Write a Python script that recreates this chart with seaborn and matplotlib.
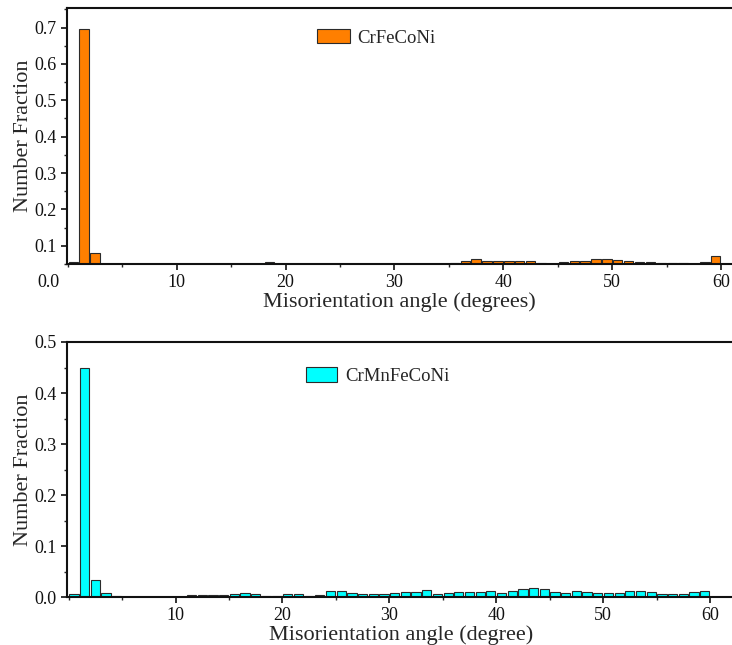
import numpy as np
import pandas as pd
import matplotlib
matplotlib.use("Agg")
import matplotlib.pyplot as plt
from matplotlib.patches import Patch
from matplotlib.ticker import MultipleLocator
import seaborn as sns

# 1-degree misorientation bins from 0 to 60 degrees
bin_centers = np.arange(60) + 0.5

crfeconi = [
    0.056, 0.695, 0.080, 0.051,
    0.045, 0.045, 0.045, 0.045, 0.045, 0.045, 0.045,
    0.045, 0.045, 0.045, 0.045, 0.045, 0.045, 0.045,
    0.055, 0.045, 0.045, 0.051, 0.051, 0.046, 0.046,
    0.051, 0.051, 0.051, 0.051, 0.051, 0.051, 0.051, 0.051, 0.051,
    0.050, 0.053,
    0.059, 0.064, 0.059, 0.059, 0.059, 0.059, 0.057, 0.053, 0.050,
    0.056, 0.059, 0.059, 0.063, 0.063, 0.060, 0.057, 0.055, 0.055,
    0.054, 0.053, 0.053, 0.046, 0.056, 0.073,
]

crmnfeconi = [
    0.0065, 0.450, 0.034, 0.008, 0.002,
    0.0, 0.0, 0.0, 0.0, 0.0, 0.0,
    0.004, 0.005, 0.005, 0.005, 0.0065, 0.009, 0.006, 0.002, 0.002,
    0.006, 0.006, 0.0025, 0.0045, 0.0125, 0.0125, 0.0085, 0.0065, 0.0065,
    0.006, 0.0085, 0.011, 0.011, 0.0145, 0.0065, 0.0085, 0.011, 0.011,
    0.011, 0.0125, 0.0085, 0.0125, 0.016, 0.019, 0.016, 0.011, 0.0085,
    0.013, 0.010, 0.0085, 0.008, 0.0085, 0.012, 0.013, 0.011, 0.007,
    0.007, 0.006, 0.010, 0.0125,
]

alloys = ["CrFeCoNi", "CrMnFeCoNi"]
xlabels = ["Misorientation angle (degrees)", "Misorientation angle (degree)"]
ylabel = "Number Fraction"

orange = "#FF7F00"
cyan = "#00FFFF"
edge = "#2b2b2b"

sns.set_theme(style="ticks")
plt.rcParams["font.family"] = ["Liberation Serif", "DejaVu Serif"]
plt.rcParams["axes.linewidth"] = 1.5

W, H = 732, 645
fig = plt.figure(figsize=(W / 100, H / 100), dpi=100)

def px_axes(left, top, right, bottom):
    return fig.add_axes([left / W, 1 - bottom / H, (right - left) / W, (bottom - top) / H])

ax1 = px_axes(66.7, 7.5, 732.1, 264.0)
ax2 = px_axes(66.7, 342.0, 734.6, 597.3)

df1 = pd.DataFrame({"angle": bin_centers, "fraction": crfeconi})
df2 = pd.DataFrame({"angle": bin_centers, "fraction": crmnfeconi})

sns.barplot(data=df1, x="angle", y="fraction", native_scale=True, width=0.86,
            color=orange, saturation=1, edgecolor=edge, linewidth=0.8,
            errorbar=None, ax=ax1)
sns.barplot(data=df2, x="angle", y="fraction", native_scale=True, width=0.86,
            color=cyan, saturation=1, edgecolor=edge, linewidth=0.8,
            errorbar=None, ax=ax2)

ax1.set_xlim(-0.1, 61.0)
ax1.set_ylim(0.05, 0.755)
ax2.set_xlim(-0.18, 62.3)
ax2.set_ylim(0.0, 0.5)

TICK_FS = 13
LABEL_FS = 16

for ax, xl in zip((ax1, ax2), xlabels):
    ax.xaxis.set_major_locator(MultipleLocator(10))
    ax.xaxis.set_minor_locator(MultipleLocator(5))
    ax.yaxis.set_major_locator(MultipleLocator(0.1))
    ax.yaxis.set_minor_locator(MultipleLocator(0.05))
    ax.tick_params(axis="both", which="major", direction="out", length=4,
                   width=1.2, labelsize=TICK_FS, pad=3, colors="#111111")
    ax.tick_params(axis="both", which="minor", direction="out", length=2.5,
                   width=1.0)
    ax.set_xticks([10, 20, 30, 40, 50, 60])
    ax.set_xticklabels(["10", "20", "30", "40", "50", "60"])
    ax.set_xlabel(xl, fontsize=LABEL_FS, labelpad=1)
    ax.set_ylabel(ylabel, fontsize=LABEL_FS)
    ax.spines["right"].set_visible(False)
    for s in ("left", "bottom", "top"):
        ax.spines[s].set_color("#111111")

# y labels placed so their right side sits about 33 px from the figure edge
ax1.yaxis.set_label_coords((33 - 66.7) / 665.4, 0.5)
ax2.yaxis.set_label_coords((33 - 66.7) / 667.9, 0.5)

ax1.set_yticks([0.1, 0.2, 0.3, 0.4, 0.5, 0.6, 0.7])
ax1.set_yticklabels(["0.1", "0.2", "0.3", "0.4", "0.5", "0.6", "0.7"])
ax2.set_yticks([0.0, 0.1, 0.2, 0.3, 0.4, 0.5])
ax2.set_yticklabels(["0.0", "0.1", "0.2", "0.3", "0.4", "0.5"])

# the zero label of the upper panel sits below its raised baseline
ax1.text(-6.7 / 665.4, 0.0, "0.0", transform=ax1.get_yaxis_transform(),
         ha="right", va="center", fontsize=TICK_FS, color="#111111", clip_on=False)

h1 = [Patch(facecolor=orange, edgecolor=edge, linewidth=0.8)]
h2 = [Patch(facecolor=cyan, edgecolor=edge, linewidth=0.8)]
fig.legend(h1, [alloys[0]], loc="upper left", bbox_to_anchor=(317 / W, 1 - 29 / H),
           frameon=False, fontsize=13.5, borderpad=0, borderaxespad=0,
           handlelength=1.77, handleheight=0.78, handletextpad=0.39)
fig.legend(h2, [alloys[1]], loc="upper left", bbox_to_anchor=(306 / W, 1 - 367.5 / H),
           frameon=False, fontsize=13.5, borderpad=0, borderaxespad=0,
           handlelength=1.66, handleheight=0.83, handletextpad=0.44)

fig.savefig("out.png", dpi=100)
